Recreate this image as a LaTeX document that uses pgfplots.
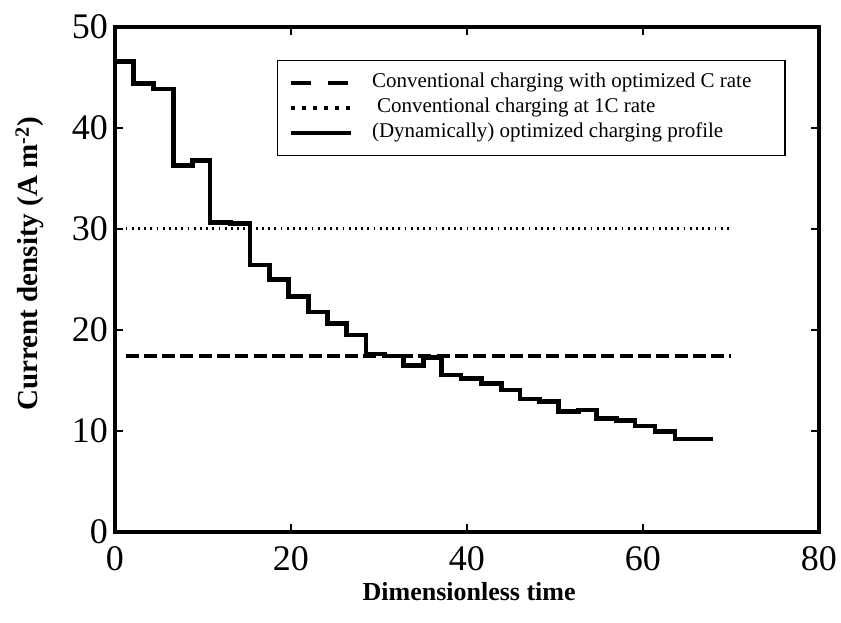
\documentclass[border=0pt]{standalone}
\usepackage{pgfplots}
\pgfplotsset{compat=1.18}
\usepackage{fontspec}
\setmainfont{Liberation Serif}
\pgfplotstableread{
x y
0 46.57
2.08 44.42
4.35 43.86
6.63 36.27
8.83 36.76
10.80 30.66
13.15 30.56
15.34 26.44
17.53 25.02
19.69 23.30
21.97 21.78
24.15 20.66
26.33 19.50
28.52 17.62
30.68 17.45
32.76 16.47
35.03 17.26
37.13 15.54
39.32 15.22
41.67 14.72
43.94 14.06
46.02 13.17
48.22 12.90
50.38 11.91
52.65 12.08
54.74 11.26
57.01 11.02
59.09 10.50
61.36 9.93
63.64 9.21
67.99 9.21
}\optprofile
\begin{document}
\begin{tikzpicture}
\begin{axis}[
  scale only axis, width=704pt, height=505pt,
  xmin=0, xmax=80, ymin=0, ymax=50,
  xtick={0,20,40,60,80}, ytick={0,10,20,30,40,50},
  tick align=inside, major tick length=8pt,
  every tick/.style={black, line width=2.5pt},
  axis line style={line width=3.5pt},
  /pgf/number format/assume math mode=true,
  tick label style={font=\fontsize{36}{36}\selectfont},
  xticklabel style={yshift=-11.5pt},
  yticklabel style={xshift=-3.5pt},
  xlabel={Dimensionless time},
  ylabel={Current density (A m\textsuperscript{-2})},
  xlabel style={font=\fontsize{26}{26}\selectfont\bfseries, at={(axis description cs:0.503,-0.119)}, anchor=center},
  ylabel style={font=\fontsize{29}{29}\selectfont\bfseries, at={(axis description cs:-0.121,0.531)}, anchor=center},
  legend style={at={(axis description cs:0.230,0.935)}, anchor=north west, draw=black, line width=1.2pt,
    font=\fontsize{21}{21}\selectfont, inner xsep=11pt, inner ysep=10pt,
    nodes={inner xsep=0pt, inner ysep=2.5pt, text height=15pt, text depth=5pt}},
  legend cell align=left,
]
\addplot[black, line width=4pt, dash pattern=on 13pt off 5.3pt,
  legend image code/.code={\draw[black, line width=4pt, dash pattern=on 20pt off 17pt] (0pt,0pt) -- (60pt,0pt);}]
  coordinates {(1.2,17.4) (70,17.4)};
\addlegendentry{\hspace{19pt}\makebox[402pt][l]{Conventional charging with optimized C rate}}
\addplot[black, line width=3pt, dash pattern=on 1.8pt off 4.4pt,
  legend image code/.code={\draw[black, line width=4pt, dash pattern=on 4pt off 7pt] (0pt,0pt) -- (60pt,0pt);}]
  coordinates {(1.2,30) (70,30)};
\addlegendentry{\hspace{19pt}\makebox[402pt][l]{\hspace{5pt}Conventional charging at 1C rate}}
\addplot[black, line width=4.5pt, const plot, line join=miter,
  legend image code/.code={\draw[black, line width=4.5pt] (0pt,0pt) -- (60pt,0pt);}]
  table[x=x, y=y] {\optprofile};
\addlegendentry{\hspace{19pt}\makebox[402pt][l]{(Dynamically) optimized charging profile}}
\end{axis}
\pgfresetboundingbox
\path[use as bounding box] (-115pt,-91pt) rectangle (726pt,532pt);
\end{tikzpicture}
\end{document}
